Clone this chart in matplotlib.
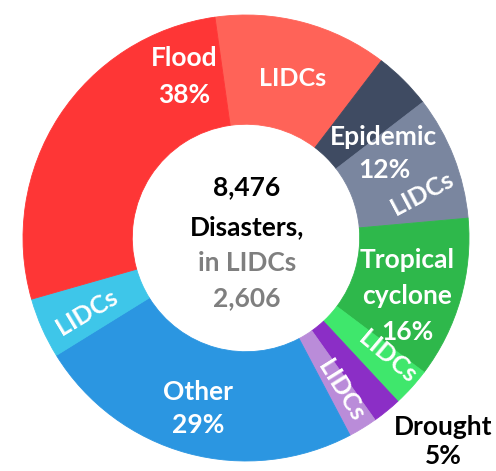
"""
Donut chart: disasters by type, with the LIDC share of each type
"""

import matplotlib.pyplot as plt

# slices in clockwise order, starting just left of 12 o'clock
slices = ['Flood LIDCs', 'Epidemic', 'Epidemic LIDCs', 'Tropical cyclone',
          'Tropical cyclone LIDCs', 'Drought', 'Drought LIDCs', 'Other',
          'Other LIDCs', 'Flood']
shares = [12.6, 4.2, 9.0, 11.7, 2.8, 2.1, 2.1, 23.9, 4.4, 27.2]
colors = ['#FF6358', '#3F4B62', '#7A869F', '#2EB84B', '#3FE76C',
          '#8B2EC6', '#BA8CD9', '#2B96E1', '#3EC6E9', '#FE3636']

total_disasters = '8,476'
lidc_disasters = '2,606'

FONT = 'Lato'
R = 223.0           # pixels per data unit (outer radius)
CX, CY = 246, 238   # donut centre in pixels


def px(x, y):
    """pixel position -> data coords"""
    return (x - CX) / R, (CY - y) / R


def label(ax, lines, x, y0, step=36, color='white', size=19, rot=0):
    for i, t in enumerate(lines):
        ax.text(*px(x, y0 + i * step), t, ha='center', va='center',
                color=color, fontsize=size, fontweight='bold',
                family=FONT, rotation=rot, rotation_mode='anchor')


fig = plt.figure(figsize=(4.96, 4.71), dpi=100)
ax = fig.add_axes([0, 0, 1, 1])

wedges, _ = ax.pie(shares, colors=colors, startangle=98, counterclock=False,
                   radius=1, wedgeprops=dict(width=0.49, linewidth=0.6))
for w in wedges:
    w.set_edgecolor(w.get_facecolor())

ax.set_xlim(-CX / R, (496 - CX) / R)
ax.set_ylim((CY - 471) / R, CY / R)
ax.set_aspect('equal')
ax.axis('off')

# category labels
label(ax, ['Flood', '38%'], 184, 58, 37)
label(ax, ['LIDCs'], 293, 78, size=18)
label(ax, ['Epidemic', '12%'], 384, 137, 33)
label(ax, ['LIDCs'], 422, 194, size=18, rot=28)
label(ax, ['Tropical', 'cyclone', '16%'], 407, 260, 36)
label(ax, ['LIDCs'], 388, 357, size=18, rot=-40)
label(ax, ['LIDCs'], 341, 390, size=18, rot=-58)
label(ax, ['Drought', '5%'], 443, 427, 29, color='black')
label(ax, ['Other', '29%'], 198, 392, 33)
label(ax, ['LIDCs'], 87, 312, size=18, rot=31)

# centre text
label(ax, [total_disasters, 'Disasters,'], 247, 187, 40, color='black')
label(ax, ['in LIDCs', lidc_disasters], 247, 263, 35, color='#7F7F7F')

fig.savefig('out.png', dpi=100)
plt.close(fig)
